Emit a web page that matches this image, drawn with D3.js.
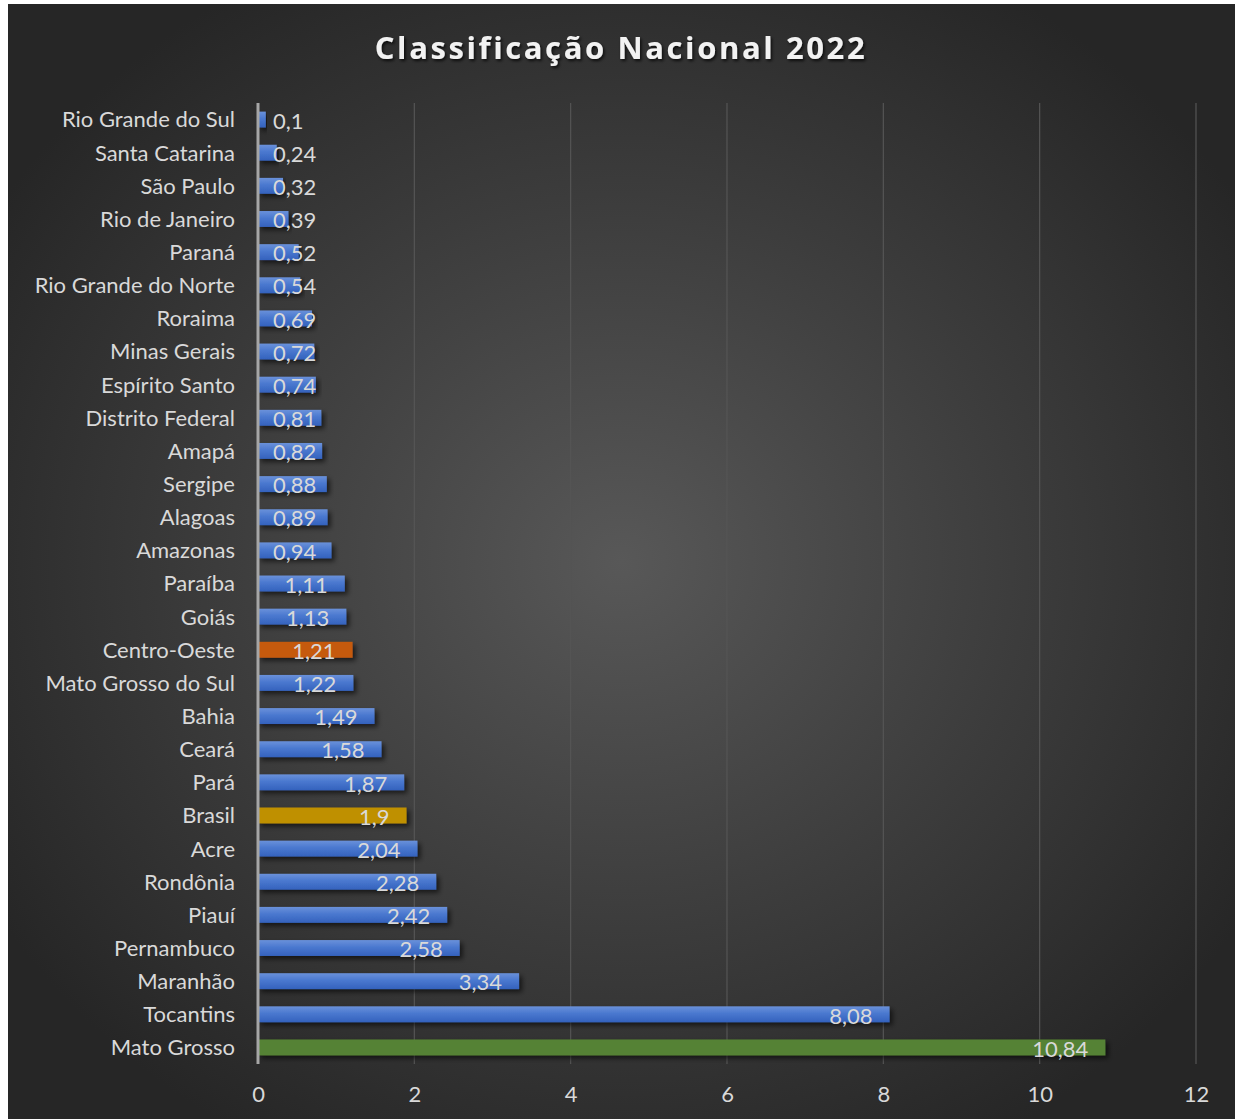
<!DOCTYPE html>
<html>
<head>
<meta charset="utf-8">
<script src="https://cdn.jsdelivr.net/npm/d3@7"></script>
<style>
  html, body { margin: 0; padding: 0; background: #ffffff; }
  svg { display: block; }
</style>
</head>
<body>
<svg id="chart" width="1235" height="1119"></svg>
<script>
// Ranking values per state (top to bottom)
const categories = [
  "Rio Grande do Sul", "Santa Catarina", "São Paulo", "Rio de Janeiro", "Paraná",
  "Rio Grande do Norte", "Roraima", "Minas Gerais", "Espírito Santo", "Distrito Federal",
  "Amapá", "Sergipe", "Alagoas", "Amazonas", "Paraíba", "Goiás", "Centro-Oeste",
  "Mato Grosso do Sul", "Bahia", "Ceará", "Pará", "Brasil", "Acre", "Rondônia",
  "Piauí", "Pernambuco", "Maranhão", "Tocantins", "Mato Grosso"
];
const values = [
  0.1, 0.24, 0.32, 0.39, 0.52, 0.54, 0.69, 0.72, 0.74, 0.81,
  0.82, 0.88, 0.89, 0.94, 1.11, 1.13, 1.21, 1.22, 1.49, 1.58,
  1.87, 1.9, 2.04, 2.28, 2.42, 2.58, 3.34, 8.08, 10.84
];
// Highlighted rows; everything else is drawn in the default blue
const highlight = { "Centro-Oeste": "#c55a11", "Brasil": "#bf9000", "Mato Grosso": "#548235" };
const xTicks = [0, 2, 4, 6, 8, 10, 12];
const title = "Classificação Nacional 2022";

const data = categories.map((c, i) => ({ name: c, value: values[i] }));

const svg = d3.select("#chart");
const W = 1235, H = 1119;
const panel = { x: 8, y: 4, w: W - 8, h: H - 4 };

const defs = svg.append("defs");
const bg = defs.append("radialGradient").attr("id", "bg")
  .attr("cx", "50%").attr("cy", "50%").attr("r", "60%");
bg.append("stop").attr("offset", "0%").attr("stop-color", "#585858");
bg.append("stop").attr("offset", "55%").attr("stop-color", "#3c3c3c");
bg.append("stop").attr("offset", "100%").attr("stop-color", "#262626");

const blue = defs.append("linearGradient").attr("id", "blueBar")
  .attr("x1", 0).attr("y1", 0).attr("x2", 0).attr("y2", 1);
blue.append("stop").attr("offset", "0%").attr("stop-color", "#6a91da");
blue.append("stop").attr("offset", "45%").attr("stop-color", "#4a78cf");
blue.append("stop").attr("offset", "100%").attr("stop-color", "#3462bd");

const shadow = defs.append("filter").attr("id", "barShadow")
  .attr("x", "-5%").attr("y", "-50%").attr("width", "115%").attr("height", "220%");
shadow.append("feDropShadow").attr("dx", 3).attr("dy", 3).attr("stdDeviation", 2.5)
  .attr("flood-color", "#000").attr("flood-opacity", 0.6);

const titleShadow = defs.append("filter").attr("id", "titleShadow")
  .attr("x", "-10%").attr("y", "-50%").attr("width", "120%").attr("height", "200%");
titleShadow.append("feDropShadow").attr("dx", 1.5).attr("dy", 2).attr("stdDeviation", 1.5)
  .attr("flood-color", "#000").attr("flood-opacity", 0.75);

svg.append("rect")
  .attr("x", panel.x).attr("y", panel.y)
  .attr("width", panel.w).attr("height", panel.h)
  .attr("fill", "url(#bg)");

const plot = { left: 258, right: 1196, top: 103, bottom: 1064 };

const x = d3.scaleLinear().domain([0, 12]).range([plot.left, plot.right]);
const y = d3.scaleBand().domain(categories).range([plot.top, plot.bottom]).paddingInner(0.52).paddingOuter(0.26);

const font = "Lato, 'Open Sans', sans-serif";
const fontSize = "22px";

// Vertical gridlines
svg.append("g").selectAll("line")
  .data(xTicks.filter(t => t > 0))
  .join("line")
  .attr("x1", d => x(d)).attr("x2", d => x(d))
  .attr("y1", plot.top).attr("y2", plot.bottom)
  .attr("stroke", "#555555").attr("stroke-width", 1.2);

// Bars
svg.append("g").selectAll("rect")
  .data(data)
  .join("rect")
  .attr("x", x(0))
  .attr("y", d => y(d.name))
  .attr("width", d => x(d.value) - x(0))
  .attr("height", y.bandwidth())
  .attr("fill", d => highlight[d.name] || "url(#blueBar)")
  .attr("filter", "url(#barShadow)");

// Category axis line
svg.append("line")
  .attr("x1", x(0)).attr("x2", x(0))
  .attr("y1", plot.top).attr("y2", plot.bottom)
  .attr("stroke", "#a6a6a6").attr("stroke-width", 3);

// Category labels
const yAxis = d3.axisLeft(y).tickSize(0).tickPadding(23);
const yg = svg.append("g").attr("transform", `translate(${x(0)},0)`).call(yAxis);
yg.select(".domain").remove();
yg.selectAll("text")
  .attr("fill", "#d9d9d9")
  .attr("dy", "0.36em")
  .style("font-family", font)
  .style("font-size", fontSize);

// Value axis labels
const xAxis = d3.axisBottom(x).tickValues(xTicks).tickSize(0).tickPadding(0);
const xg = svg.append("g").attr("transform", `translate(0,1086)`).call(xAxis);
xg.select(".domain").remove();
xg.selectAll("text")
  .attr("fill", "#d9d9d9")
  .attr("dy", "0.71em")
  .style("font-family", font)
  .style("font-size", fontSize);

// Value labels: inside the bar end, but never before the axis
const fmt = v => String(v).replace(".", ",");
const labels = svg.append("g").selectAll("text")
  .data(data)
  .join("text")
  .attr("y", d => y(d.name) + y.bandwidth() / 2)
  .attr("dy", "0.42em")
  .attr("fill", "#d9d9d9")
  .style("font-family", font)
  .style("font-size", fontSize)
  .text(d => fmt(d.value));
labels.each(function (d) {
  const w = this.getComputedTextLength();
  const left = Math.max(x(d.value) - 17 - w, x(0) + 15);
  d3.select(this).attr("x", left);
});

// Title
svg.append("text")
  .attr("x", 621).attr("y", 59)
  .attr("text-anchor", "middle")
  .attr("fill", "#f2f2f2")
  .attr("filter", "url(#titleShadow)")
  .style("font-family", "'Open Sans', sans-serif")
  .style("font-weight", "700")
  .style("font-size", "31px")
  .style("letter-spacing", "2.6px")
  .text(title);
</script>
</body>
</html>
